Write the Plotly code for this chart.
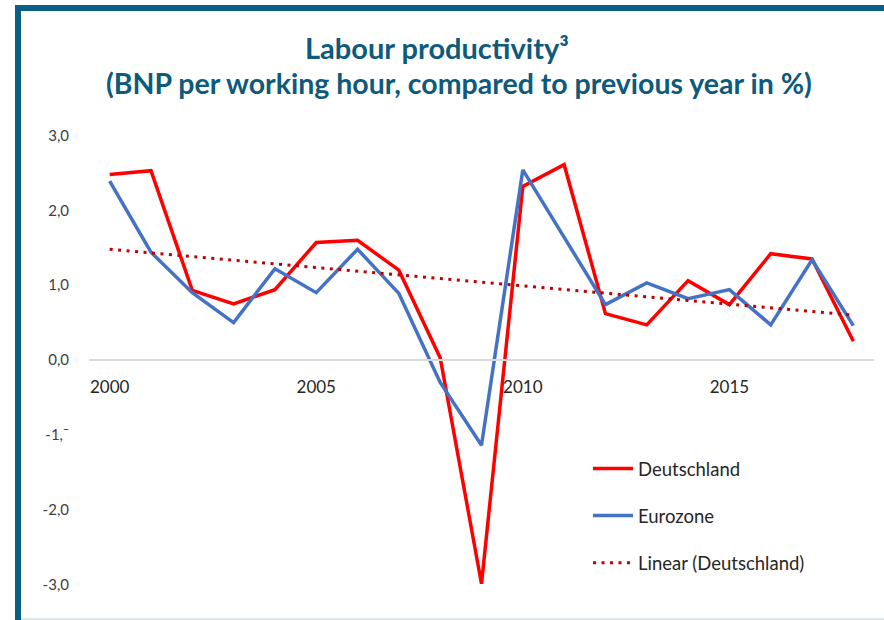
import plotly.graph_objects as go

years = list(range(2000, 2019))
deutschland = [2.48, 2.53, 0.93, 0.75, 0.94, 1.57, 1.60, 1.20, 0.03, -2.99,
               2.32, 2.61, 0.62, 0.47, 1.06, 0.74, 1.42, 1.35, 0.25]
eurozone = [2.39, 1.44, 0.90, 0.50, 1.22, 0.90, 1.48, 0.89, -0.30, -1.14,
            2.54, 1.63, 0.74, 1.03, 0.82, 0.94, 0.47, 1.34, 0.46]
trend_years = [2000, 2018]
trend_values = [1.48, 0.60]

x_tick_vals = [2000, 2005, 2010, 2015]
y_tick_vals = [3, 2, 1, 0, -1, -2, -3]
y_tick_text = ["3,0", "2,0", "1,0", "0,0", "-1,\u00af", "-2,0", "-3,0"]

title_text = "<b>Labour productivity\u00b3</b>"
subtitle_text = "<b>(BNP per working hour, compared to previous year in %)</b>"

W, H = 884, 620
L, R, T, B = 89, 10, 128, 28
PW, PH = W - L - R, H - T - B


def px(x):
    return (x - L) / PW


def py(y):
    return (H - B - y) / PH


FRAME = "#0b5f84"
TITLE = "#0d5a7b"
FONT = "Lato"

fig = go.Figure()
fig.add_trace(go.Scatter(x=years, y=deutschland, mode="lines", name="Deutschland",
                         line=dict(color="#ff0000", width=3.5), legendgroup="a"))
fig.add_trace(go.Scatter(x=years, y=eurozone, mode="lines", name="Eurozone",
                         line=dict(color="#4472c4", width=3.5), legendgroup="b"))
fig.add_trace(go.Scatter(x=trend_years, y=trend_values, mode="lines",
                         name="Linear (Deutschland)",
                         line=dict(color="#c00000", width=3, dash="3px,5.5px"),
                         legendgroup="c"))

fig.update_layout(
    width=W, height=H,
    margin=dict(l=L, r=R, t=T, b=B),
    paper_bgcolor="white", plot_bgcolor="white",
    font=dict(family=FONT, color="#262626"),
    showlegend=True,
    legend=dict(x=px(588), y=py(450), xanchor="left", yanchor="top",
                font=dict(family=FONT, size=18.5, color="#262626"),
                itemwidth=40,
                tracegroupgap=20, bgcolor="rgba(0,0,0,0)"),
    xaxis=dict(range=[1999.5, 2018.5], tickvals=x_tick_vals,
               anchor="free", position=0.5,
               showline=True, linecolor="#d9d9d9", linewidth=1.5,
               showgrid=False, zeroline=False,
               ticks="outside", ticklen=12, tickcolor="rgba(0,0,0,0)",
               tickfont=dict(family=FONT, size=17, color="#262626")),
    yaxis=dict(range=[-3.1, 3.1], tickvals=y_tick_vals, ticktext=y_tick_text,
               showline=False, showgrid=False, zeroline=False,
               ticks="outside", ticklen=16, tickcolor="rgba(0,0,0,0)",
               tickfont=dict(family=FONT, size=15, color="#404040")),
    annotations=[
        dict(text=title_text, x=px(437), y=py(47), xref="paper", yref="paper",
             showarrow=False, xanchor="center", yanchor="middle",
             font=dict(family=FONT, size=29, color=TITLE)),
        dict(text=subtitle_text, x=px(459), y=py(83), xref="paper", yref="paper",
             showarrow=False, xanchor="center", yanchor="middle",
             font=dict(family=FONT, size=28.5, color=TITLE)),
    ],
    shapes=[
        dict(type="rect", xref="paper", yref="paper", x0=px(15), x1=px(884),
             y0=py(11), y1=py(5), fillcolor=FRAME, line=dict(width=0)),
        dict(type="rect", xref="paper", yref="paper", x0=px(15), x1=px(21),
             y0=py(620), y1=py(5), fillcolor=FRAME, line=dict(width=0)),
        dict(type="rect", xref="paper", yref="paper", x0=px(21), x1=px(884),
             y0=py(620), y1=py(618), fillcolor="#dfe6ea", line=dict(width=0)),
    ],
)

fig.write_html("out.html", config={"displayModeBar": False},
               post_script="document.body.style.margin='0px';")
